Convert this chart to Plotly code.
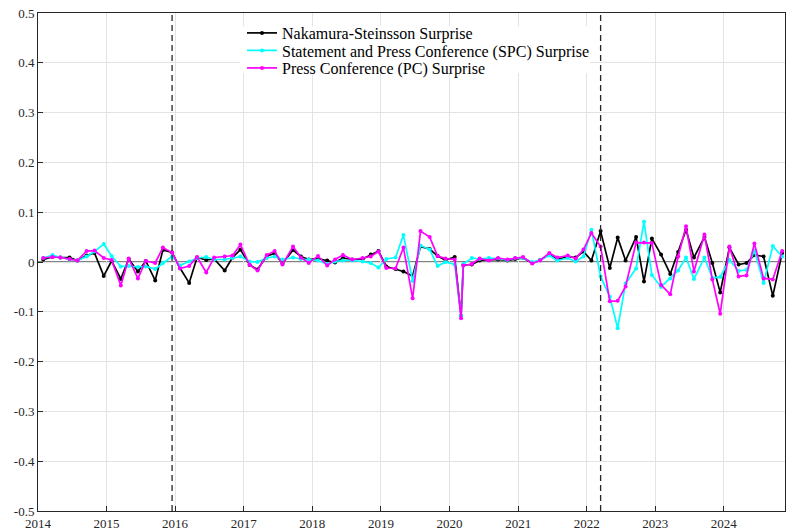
import plotly.graph_objects as go

dates = [
    "2014-01-29", "2014-03-19", "2014-04-30", "2014-06-18", "2014-07-30", "2014-09-17", "2014-10-29", "2014-12-17",
    "2015-01-28", "2015-03-18", "2015-04-29", "2015-06-17", "2015-07-29", "2015-09-17", "2015-10-28", "2015-12-16",
    "2016-01-27", "2016-03-16", "2016-04-27", "2016-06-15", "2016-07-27", "2016-09-21", "2016-11-02", "2016-12-14",
    "2017-02-01", "2017-03-15", "2017-05-03", "2017-06-14", "2017-07-26", "2017-09-20", "2017-11-01", "2017-12-13",
    "2018-01-31", "2018-03-21", "2018-05-02", "2018-06-13", "2018-08-01", "2018-09-26", "2018-11-08", "2018-12-19",
    "2019-01-30", "2019-03-20", "2019-05-01", "2019-06-19", "2019-07-31", "2019-09-18", "2019-10-30", "2019-12-11",
    "2020-01-29", "2020-03-03", "2020-03-15", "2020-04-29", "2020-06-10", "2020-07-29", "2020-09-16", "2020-11-05", "2020-12-16",
    "2021-01-27", "2021-03-17", "2021-04-28", "2021-06-16", "2021-07-28", "2021-09-22", "2021-11-03", "2021-12-15",
    "2022-01-26", "2022-03-16", "2022-05-04", "2022-06-15", "2022-07-27", "2022-09-21", "2022-11-02", "2022-12-14",
    "2023-02-01", "2023-03-22", "2023-05-03", "2023-06-14", "2023-07-26", "2023-09-20", "2023-11-01", "2023-12-13",
    "2024-01-31", "2024-03-20", "2024-05-01", "2024-06-12", "2024-07-31", "2024-09-18", "2024-11-07",
]

ns_surprise = [
    0.005, 0.010, 0.009, 0.009, 0.003, 0.013, 0.018, -0.028,
    0.002, -0.034, 0.006, -0.019, 0.002, -0.037, 0.024, 0.019,
    -0.012, -0.042, 0.009, 0.004, 0.006, -0.017, 0.009, 0.025,
    -0.006, -0.015, 0.012, 0.017, -0.003, 0.024, 0.011, 0.005,
    0.007, 0.003, -0.001, 0.008, 0.005, 0.006, 0.015, 0.022,
    -0.009, -0.014, -0.019, -0.028, 0.031, 0.026, 0.012, 0.004,
    0.010, -0.108, -0.006, -0.005, 0.003, 0.004, 0.005, 0.003, 0.006,
    0.008, -0.002, 0.004, 0.015, 0.005, 0.011, 0.009, 0.021,
    0.003, 0.062, -0.012, 0.049, 0.003, 0.050, -0.039, 0.047,
    0.015, -0.024, 0.020, 0.065, 0.009, 0.050, -0.002, -0.061,
    0.029, -0.005, -0.002, 0.014, 0.011, -0.068, 0.018,
]

spc_surprise = [
    0.008, 0.014, 0.009, 0.005, 0.003, 0.011, 0.021, 0.036,
    0.012, -0.009, -0.008, -0.010, -0.009, -0.014, -0.002, 0.011,
    -0.007, 0.001, 0.008, 0.010, 0.005, 0.005, 0.008, 0.011,
    0.001, 0.000, 0.008, 0.011, 0.005, 0.009, 0.006, 0.005,
    0.003, -0.004, 0.001, 0.003, 0.003, 0.001, -0.002, -0.011,
    0.006, 0.009, 0.054, -0.038, 0.033, 0.025, -0.008, 0.000,
    -0.005, -0.108, -0.004, 0.008, 0.006, 0.008, 0.007, 0.004, 0.008,
    0.008, 0.000, 0.004, 0.013, 0.003, 0.008, 0.001, 0.011,
    0.065, -0.029, -0.070, -0.133, -0.043, -0.013, 0.081, -0.026,
    -0.050, -0.033, -0.017, 0.009, -0.034, 0.009, -0.032, -0.030,
    0.004, -0.018, -0.016, 0.023, -0.042, 0.032, 0.011,
]

pc_surprise = [
    0.008, 0.010, 0.009, 0.006, 0.003, 0.022, 0.023, 0.008,
    0.004, -0.047, 0.007, -0.033, 0.002, -0.002, 0.029, 0.019,
    -0.013, -0.008, 0.010, -0.021, 0.009, 0.011, 0.013, 0.035,
    -0.006, -0.017, 0.014, 0.022, -0.005, 0.031, 0.009, -0.002,
    0.012, -0.007, 0.005, 0.014, 0.005, 0.008, 0.011, 0.021,
    -0.012, -0.013, 0.029, -0.073, 0.062, 0.050, 0.012, 0.007,
    0.005, -0.113, -0.007, -0.004, 0.007, 0.003, 0.008, 0.005, 0.008,
    0.010, -0.003, 0.003, 0.018, 0.009, 0.013, 0.007, 0.025,
    0.058, 0.031, -0.079, -0.078, -0.049, 0.039, 0.039, 0.038,
    -0.046, -0.065, 0.011, 0.072, -0.019, 0.055, -0.035, -0.104,
    0.031, -0.029, -0.027, 0.037, -0.033, -0.035, 0.022,
]

event_dates = ["2015-12-16", "2022-03-16"]

year_ticks = ["2014-01-01", "2015-01-01", "2016-01-01", "2017-01-01", "2018-01-01", "2019-01-01",
              "2020-01-01", "2021-01-01", "2022-01-01", "2023-01-01", "2024-01-01"]
year_labels = ["2014", "2015", "2016", "2017", "2018", "2019", "2020", "2021", "2022", "2023", "2024"]
y_ticks = [-0.5, -0.4, -0.3, -0.2, -0.1, 0, 0.1, 0.2, 0.3, 0.4, 0.5]
y_labels = ["-0.5", "-0.4", "-0.3", "-0.2", "-0.1", "0", "0.1", "0.2", "0.3", "0.4", "0.5"]

series = [
    ("Nakamura-Steinsson Surprise", ns_surprise, "#000000"),
    ("Statement and Press Conference (SPC) Surprise", spc_surprise, "#00FFFF"),
    ("Press Conference (PC) Surprise", pc_surprise, "#FF00FF"),
]

FONT = "Liberation Serif, Times New Roman, serif"
W, H = 789, 531
ML, MR, MT, MB = 38, 4, 13, 20
PH = H - MT - MB
PW = W - ML - MR

legend_ids = ["legend", "legend2", "legend3"]
legend_rows_px = [33, 50.5, 68]  # vertical centres of legend rows, from top of figure

fig = go.Figure()
for (name, vals, col), lid in zip(series, legend_ids):
    fig.add_trace(go.Scatter(
        x=dates, y=vals, name=name, mode="lines+markers",
        line=dict(color=col, width=1.7),
        marker=dict(color=col, size=4),
        legend=lid,
    ))

# zero line
fig.add_shape(type="line", xref="paper", yref="y", x0=0, x1=1, y0=0, y1=0,
              line=dict(color="#5a5a5a", width=1.5), layer="below")
for d in event_dates:
    fig.add_shape(type="line", xref="x", yref="paper", x0=d, x1=d, y0=0, y1=1,
                  line=dict(color="#262626", width=1.3, dash="6px,4px"))

# white legend box
fig.add_shape(type="rect", xref="paper", yref="paper",
              x0=(240 - ML) / PW, x1=(590 - ML) / PW,
              y0=1 - (73 - MT) / PH, y1=1 - (26 - MT) / PH,
              fillcolor="white", line=dict(width=0), layer="above")

legend_common = dict(xanchor="left", yanchor="middle", bgcolor="rgba(0,0,0,0)",
                     borderwidth=0, font=dict(family=FONT, size=16, color="#000000"),
                     itemwidth=30)
layout_legends = {}
for lid, ry in zip(legend_ids, legend_rows_px):
    layout_legends[lid] = dict(x=(242 - ML) / PW, y=1 - (ry - MT) / PH, **legend_common)

fig.update_layout(
    width=W, height=H,
    margin=dict(l=ML, r=MR, t=MT, b=MB, autoexpand=False),
    paper_bgcolor="white", plot_bgcolor="white",
    font=dict(family=FONT, size=13, color="#262626"),
    showlegend=True,
    xaxis=dict(type="date", range=["2014-01-01", "2024-11-22"],
               tickvals=year_ticks, ticktext=year_labels,
               showgrid=True, gridcolor="#e3e3e3", gridwidth=1,
               showline=True, linecolor="#262626", linewidth=1, mirror=True,
               ticks="inside", ticklen=5, tickcolor="#262626",
               zeroline=False, tickfont=dict(size=13), automargin=False),
    yaxis=dict(range=[-0.5, 0.5], tickvals=y_ticks, ticktext=y_labels,
               showgrid=True, gridcolor="#e3e3e3", gridwidth=1,
               showline=True, linecolor="#262626", linewidth=1, mirror=True,
               ticks="inside", ticklen=5, tickcolor="#262626",
               zeroline=False, tickfont=dict(size=13), automargin=False),
    **layout_legends,
)

fig.write_html("out.html", config={"displayModeBar": False},
               post_script="document.body.style.margin='0px';")
